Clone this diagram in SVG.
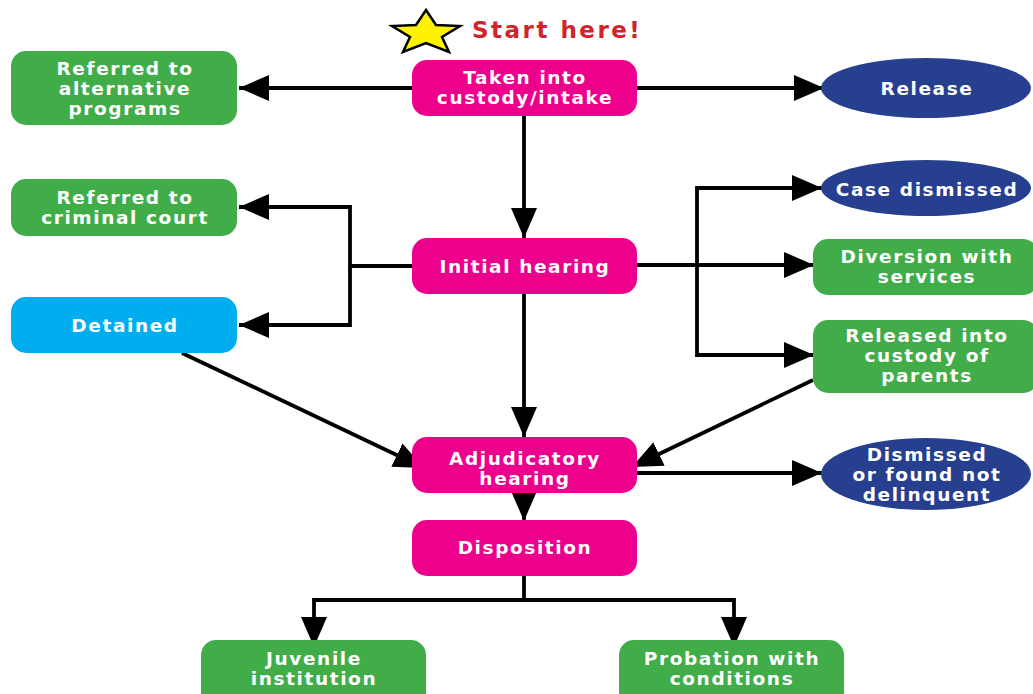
<svg xmlns="http://www.w3.org/2000/svg" width="1033" height="694" viewBox="0 0 1033 694">
<style>
.t{font-family:"DejaVu Sans","Liberation Sans",sans-serif;font-weight:bold;font-size:18.5px;fill:#fff;text-anchor:middle;letter-spacing:1.6px}
.pink{fill:#EC008C}
.green{fill:#41AD49}
.navy{fill:#263F8E}
.cyan{fill:#00AEEF}
.c{stroke:#000;stroke-width:3.8;fill:none;marker-end:url(#ah)}
.n{stroke:#000;stroke-width:3.8;fill:none}
</style>
<defs>
<marker id="ah" markerUnits="userSpaceOnUse" markerWidth="32" markerHeight="26" refX="30" refY="13" orient="auto">
<path d="M0,0 L30,13 L0,26 Z" fill="#000"/>
</marker>
</defs>
<g id="start">
<polygon points="426,10 436,25 460,26 442,37 449,52 426,43 403,52 410,37 392,26 416,25" fill="#FFF200" stroke="#000" stroke-width="2.5" stroke-linejoin="miter"/>
<text x="472" y="38" font-family="'DejaVu Sans','Liberation Sans',sans-serif" font-weight="bold" font-size="23" fill="#D2232A" letter-spacing="2.5">Start here!</text>
</g>
<g id="connectors">
<line class="c" x1="412" y1="88" x2="239" y2="88"/>
<line class="c" x1="637" y1="88" x2="824" y2="88"/>
<line class="c" x1="524" y1="116" x2="524" y2="238"/>
<polyline class="n" points="412,266 350,266"/>
<polyline class="c" points="350,266 350,207 239,207"/>
<polyline class="c" points="350,266 350,325 239,325"/>
<line class="c" x1="637" y1="265" x2="814" y2="265"/>
<polyline class="c" points="697,265 697,188 822,188"/>
<polyline class="c" points="697,265 697,355 814,355"/>
<line class="c" x1="524" y1="294" x2="524" y2="437"/>
<line class="c" x1="182" y1="353" x2="424" y2="468"/>
<line class="c" x1="813" y1="380" x2="632" y2="467"/>
<line class="c" x1="637" y1="473" x2="822" y2="473"/>
<line class="c" x1="524" y1="493" x2="524" y2="521"/>
<polyline class="n" points="524,576 524,600"/>
<polyline class="c" points="524,600 314,600 314,647"/>
<polyline class="c" points="524,600 734,600 734,647"/>
</g>
<g id="intake">
<rect class="pink" x="412" y="60" width="225" height="56" rx="15"/>
<text class="t" x="525" y="84">Taken into</text>
<text class="t" x="525" y="104">custody/intake</text>
</g>
<g id="alt-programs">
<rect class="green" x="11" y="51" width="226" height="74" rx="15"/>
<text class="t" x="125" y="75">Referred to</text>
<text class="t" x="125" y="95">alternative</text>
<text class="t" x="125" y="115">programs</text>
</g>
<g id="release">
<ellipse class="navy" cx="926" cy="88" rx="105" ry="30"/>
<text class="t" x="927" y="95">Release</text>
</g>
<g id="criminal-court">
<rect class="green" x="11" y="179" width="226" height="57" rx="15"/>
<text class="t" x="125" y="204">Referred to</text>
<text class="t" x="125" y="224">criminal court</text>
</g>
<g id="initial-hearing">
<rect class="pink" x="412" y="238" width="225" height="56" rx="15"/>
<text class="t" x="525" y="273">Initial hearing</text>
</g>
<g id="detained">
<rect class="cyan" x="11" y="297" width="226" height="56" rx="15"/>
<text class="t" x="125" y="332">Detained</text>
</g>
<g id="case-dismissed">
<ellipse class="navy" cx="926" cy="188" rx="105" ry="28"/>
<text class="t" x="927" y="196">Case dismissed</text>
</g>
<g id="diversion">
<rect class="green" x="813" y="239" width="225" height="56" rx="15"/>
<text class="t" x="927" y="263">Diversion with</text>
<text class="t" x="927" y="283">services</text>
</g>
<g id="released-parents">
<rect class="green" x="813" y="320" width="225" height="73" rx="15"/>
<text class="t" x="927" y="342">Released into</text>
<text class="t" x="927" y="362">custody of</text>
<text class="t" x="927" y="382">parents</text>
</g>
<g id="adjudicatory">
<rect class="pink" x="412" y="437" width="225" height="56" rx="15"/>
<text class="t" x="525" y="465">Adjudicatory</text>
<text class="t" x="525" y="485">hearing</text>
</g>
<g id="not-delinquent">
<ellipse class="navy" cx="926" cy="474" rx="105" ry="36"/>
<text class="t" x="927" y="461">Dismissed</text>
<text class="t" x="927" y="481">or found not</text>
<text class="t" x="927" y="501">delinquent</text>
</g>
<g id="disposition">
<rect class="pink" x="412" y="520" width="225" height="56" rx="15"/>
<text class="t" x="525" y="554">Disposition</text>
</g>
<g id="juvenile">
<rect class="green" x="201" y="640" width="225" height="70" rx="15"/>
<text class="t" x="314" y="665">Juvenile</text>
<text class="t" x="314" y="685">institution</text>
</g>
<g id="probation">
<rect class="green" x="619" y="640" width="225" height="70" rx="15"/>
<text class="t" x="732" y="665">Probation with</text>
<text class="t" x="732" y="685">conditions</text>
</g>
</svg>
